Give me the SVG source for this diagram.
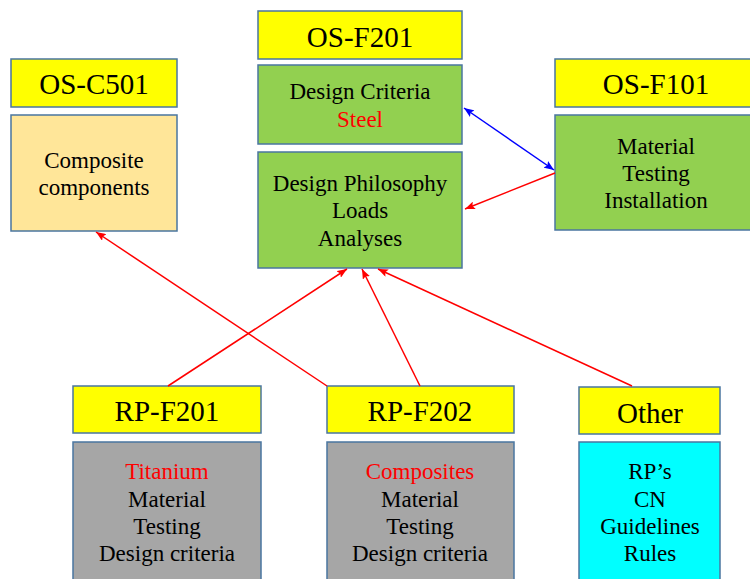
<svg xmlns="http://www.w3.org/2000/svg" width="750" height="579" viewBox="0 0 750 579">
<style>
.box{stroke:#4a76a0;stroke-width:1.5}
.hdr{fill:#ffff00}
.grn{fill:#92d050}
.org{fill:#ffe699}
.gry{fill:#a6a6a6}
.cyn{fill:#00ffff}
text{font-family:"Liberation Serif","Times New Roman",serif;text-anchor:middle;fill:#000}
.h{font-size:29px}
.b{font-size:23px}
.r{fill:#ff0000}
.red{stroke:#ff0000;stroke-width:1.5;fill:none}
.blue{stroke:#0000ff;stroke-width:1.5;fill:none}
</style>
<defs>
<marker id="ar" viewBox="0 0 10 8" refX="10" refY="4" markerWidth="10" markerHeight="8" markerUnits="userSpaceOnUse" orient="auto">
<path d="M0,0 L10,4 L0,8 L2,4 Z" fill="#ff0000"/>
</marker>
<marker id="ab" viewBox="0 0 10 8" refX="10" refY="4" markerWidth="10" markerHeight="8" markerUnits="userSpaceOnUse" orient="auto-start-reverse">
<path d="M0,0 L10,4 L0,8 L2,4 Z" fill="#0000ff"/>
</marker>
</defs>
<rect width="750" height="579" fill="#ffffff"/>

<g id="os-f201">
<rect class="box hdr" x="258" y="11" width="204" height="48"/>
<text class="h" x="360" y="47">OS-F201</text>
</g>
<g id="design-criteria">
<rect class="box grn" x="258" y="65" width="204" height="79"/>
<text class="b" x="360" y="99">Design Criteria</text>
<text class="b r" x="360" y="127">Steel</text>
</g>
<g id="design-philosophy">
<rect class="box grn" x="258" y="152" width="204" height="116"/>
<text class="b" x="360" y="191">Design Philosophy</text>
<text class="b" x="360" y="218">Loads</text>
<text class="b" x="360" y="246">Analyses</text>
</g>

<g id="os-c501">
<rect class="box hdr" x="11" y="59" width="166" height="48"/>
<text class="h" x="94" y="94">OS-C501</text>
</g>
<g id="composite-components">
<rect class="box org" x="11" y="115" width="166" height="116"/>
<text class="b" x="94" y="168">Composite</text>
<text class="b" x="94" y="195">components</text>
</g>

<g id="os-f101">
<rect class="box hdr" x="555" y="59" width="196" height="48"/>
<text class="h" x="656" y="94">OS-F101</text>
</g>
<g id="material-testing-installation">
<rect class="box grn" x="555" y="115" width="196" height="115"/>
<text class="b" x="656" y="154">Material</text>
<text class="b" x="656" y="181">Testing</text>
<text class="b" x="656" y="208">Installation</text>
</g>

<g id="rp-f201">
<rect class="box hdr" x="73" y="386" width="188" height="47"/>
<text class="h" x="167" y="421">RP-F201</text>
</g>
<g id="titanium">
<rect class="box gry" x="73" y="442" width="188" height="140"/>
<text class="b r" x="167" y="479">Titanium</text>
<text class="b" x="167" y="507">Material</text>
<text class="b" x="167" y="534">Testing</text>
<text class="b" x="167" y="561">Design criteria</text>
</g>

<g id="rp-f202">
<rect class="box hdr" x="327" y="386" width="187" height="47"/>
<text class="h" x="420" y="421">RP-F202</text>
</g>
<g id="composites">
<rect class="box gry" x="327" y="442" width="187" height="140"/>
<text class="b r" x="420" y="479">Composites</text>
<text class="b" x="420" y="507">Material</text>
<text class="b" x="420" y="534">Testing</text>
<text class="b" x="420" y="561">Design criteria</text>
</g>

<g id="other">
<rect class="box hdr" x="579" y="387" width="141" height="47"/>
<text class="h" x="650" y="423">Other</text>
</g>
<g id="other-list">
<rect class="box cyn" x="579" y="442" width="141" height="140"/>
<text class="b" x="650" y="479">RP’s</text>
<text class="b" x="650" y="507">CN</text>
<text class="b" x="650" y="534">Guidelines</text>
<text class="b" x="650" y="561">Rules</text>
</g>

<g id="connectors">
<line class="blue" x1="464" y1="108" x2="554" y2="170" marker-start="url(#ab)" marker-end="url(#ab)"/>
<line class="red" x1="555" y1="173" x2="465" y2="209" marker-end="url(#ar)"/>
<line class="red" x1="168" y1="386" x2="347" y2="269" marker-end="url(#ar)"/>
<line class="red" x1="420" y1="386" x2="362" y2="269" marker-end="url(#ar)"/>
<line class="red" x1="632" y1="386" x2="378" y2="269" marker-end="url(#ar)"/>
<line class="red" x1="327" y1="386" x2="96" y2="232" marker-end="url(#ar)"/>
</g>
</svg>
